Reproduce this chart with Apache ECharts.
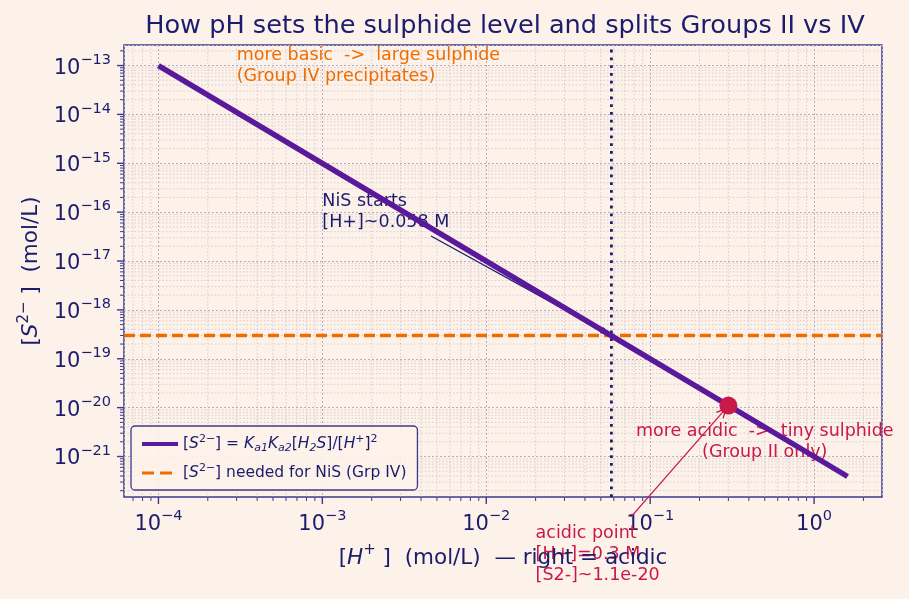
<!DOCTYPE html>
<html><head><meta charset="utf-8">
<script src="https://cdn.jsdelivr.net/npm/echarts@6/dist/echarts.min.js"></script>
<style>html,body{margin:0;padding:0;background:#fdf2e9}#c{width:909px;height:599px}</style>
</head><body><div id="c"></div><script>
// ---------------- data ----------------
const H_VALUES = [1e-4, 1e-3, 1e-2, 1e-1, 1, 1.6];              // [H+] mol/L
const S_VALUES = [1e-13, 1e-15, 1e-17, 1e-19, 1e-21, 3.9e-22];    // [S2-] mol/L
const S_NEEDED_NIS = 3e-19;       // horizontal dashed level
const H_NIS_START = 0.058;        // vertical dotted line
const ACID_POINT_H = [0.3];
const ACID_POINT_S = [1.1e-20];
const X_RANGE = [6.164e-5, 2.596];
const Y_RANGE = [1.484e-22, 2.633e-13];
const X_TICK_POWERS = [-4, -3, -2, -1, 0];
const Y_TICK_POWERS = [-21, -20, -19, -18, -17, -16, -15, -14, -13];
const X_MINOR_DECADES = [-5, -4, -3, -2, -1, 0];
const Y_MINOR_DECADES = [-23, -22, -21, -20, -19, -18, -17, -16, -15, -14, -13];
const MINOR_MULTS = [2, 3, 4, 5, 6, 7, 8, 9];
const SERIES_NAMES = ['[S2-] = Ka1 Ka2 [H2S]/[H+]^2', '[S2-] needed for NiS (Grp IV)'];
const LEGEND_RICH = [
  '{n|[}{i|S}{sp|2−}{n|] = }{i|K}{sb|a1}{i|K}{sb|a2}{n|[}{i|H}{sb|2}{i|S}{n|]/[}{i|H}{sp|+}{n|]}{sp|2}',
  '{n|[}{i|S}{sp|2−}{n|] needed for NiS (Grp IV)}'
];
const TITLE = 'How pH sets the sulphide level and splits Groups II vs IV';
const ANN_TEXTS = ['NiS starts\n[H+]~0.058 M', 'more basic  ->  large sulphide\n(Group IV precipitates)',
                   'more acidic  ->  tiny sulphide\n(Group II only)', 'acidic point\n[H+]=0.3 M\n[S2-]~1.1e-20'];
const ANN_X = [1e-3, 3e-4, 0.5, 0.02];
const ANN_Y = [1e-16, 1e-13, 2e-21, 1e-23];
const ANN_ALIGN = ['left', 'left', 'center', 'left'];
const ARROW_FROM_X = [4.6e-3, 0.0764];
const ARROW_FROM_Y = [3.25e-17, 5.8e-23];
const ARROW_TO_X = [0.058, 0.3];
const ARROW_TO_Y = [3e-19, 1.1e-20];

// ---------------- styles ----------------
const BG = '#fdf2e9', NAVY = '#1c1c6e', FRAME = '#3b3b8c', PURPLE = '#5a189a',
      ORANGE = '#ef6c00', CRIMSON = '#c9184a', GRID_MAJOR = '#b9adc0', GRID_MINOR = '#cfc3cc';
const FONT = '"DejaVu Sans"';
const ANN_COLORS = [NAVY, ORANGE, CRIMSON, CRIMSON];
const ARROW_COLORS = [NAVY, CRIMSON];
const ARROW_FILLED = [true, false];

const xMinor = [], yMinor = [];
X_MINOR_DECADES.forEach(d => MINOR_MULTS.forEach(m => { const v = m * Math.pow(10, d); if (v > X_RANGE[0] && v < X_RANGE[1]) xMinor.push(v); }));
Y_MINOR_DECADES.forEach(d => MINOR_MULTS.forEach(m => { const v = m * Math.pow(10, d); if (v > Y_RANGE[0] && v < Y_RANGE[1]) yMinor.push(v); }));
const X_REF = 1e-2, Y_REF = 1e-17;
const xTickData = X_TICK_POWERS.map(p => [Math.pow(10, p), Y_REF, 0]).concat(xMinor.map(v => [v, Y_REF, 1]));
const yTickData = Y_TICK_POWERS.map(p => [X_REF, Math.pow(10, p), 0]).concat(yMinor.map(v => [X_REF, v, 1]));

function powLabel(v) {
  const e = Math.log10(v), r = Math.round(e);
  if (Math.abs(e - r) > 1e-6) return '';
  return '{b|10}{s|' + (r < 0 ? '−' + (-r) : String(r)) + '}';
}
const tickRich = {
  b: { fontSize: 21, fontFamily: FONT, color: NAVY, lineHeight: 26, verticalAlign: 'bottom' },
  s: { fontSize: 14.5, fontFamily: FONT, color: NAVY, lineHeight: 14, verticalAlign: 'top' }
};
const nameRich = {
  b: { fontSize: 21.5, fontFamily: FONT, color: NAVY, lineHeight: 26, verticalAlign: 'bottom' },
  i: { fontSize: 21.5, fontFamily: FONT, color: NAVY, lineHeight: 26, fontStyle: 'italic', verticalAlign: 'bottom' },
  s: { fontSize: 15, fontFamily: FONT, color: NAVY, lineHeight: 16, verticalAlign: 'top' }
};

function xTickItem(params, api) {
  const cs = params.coordSys;
  const px = api.coord([api.value(0), api.value(1)])[0];
  const minor = api.value(2) === 1;
  const bottom = cs.y + cs.height;
  const ch = [{ type: 'line', shape: { x1: px, y1: bottom, x2: px, y2: bottom + (minor ? 4 : 7) }, style: { stroke: FRAME, lineWidth: minor ? 1 : 1.4 } }];
  if (minor) ch.push({ type: 'line', shape: { x1: px, y1: cs.y, x2: px, y2: bottom }, style: { stroke: GRID_MINOR, lineWidth: 0.8, lineDash: [1.5, 2] } });
  return { type: 'group', children: ch };
}
function yTickItem(params, api) {
  const cs = params.coordSys;
  const py = api.coord([api.value(0), api.value(1)])[1];
  const minor = api.value(2) === 1;
  const ch = [{ type: 'line', shape: { x1: cs.x - (minor ? 4 : 7), y1: py, x2: cs.x, y2: py }, style: { stroke: FRAME, lineWidth: minor ? 1 : 1.4 } }];
  if (minor) ch.push({ type: 'line', shape: { x1: cs.x, y1: py, x2: cs.x + cs.width, y2: py }, style: { stroke: GRID_MINOR, lineWidth: 0.8, lineDash: [1.5, 2] } });
  return { type: 'group', children: ch };
}
function annItem(params, api) {
  const i = api.value(2);
  const p = api.coord([api.value(0), api.value(1)]);
  return { type: 'text', x: p[0], y: p[1], style: {
    text: ANN_TEXTS[i], fill: ANN_COLORS[i], font: '17.5px ' + FONT,
    align: ANN_ALIGN[i], verticalAlign: 'middle', lineHeight: 21 } };
}
function arrowItem(params, api) {
  const i = api.value(4);
  const a = api.coord([api.value(0), api.value(1)]);
  const b0 = api.coord([api.value(2), api.value(3)]);
  const dx = b0[0] - a[0], dy = b0[1] - a[1], L = Math.hypot(dx, dy), ux = dx / L, uy = dy / L;
  const shrink = ARROW_FILLED[i] ? 2 : 4;
  const b = [b0[0] - ux * shrink, b0[1] - uy * shrink];
  const hl = 9, hw = ARROW_FILLED[i] ? 3.5 : 4.5;
  const base = [b[0] - ux * hl, b[1] - uy * hl];
  const l = [base[0] - uy * hw, base[1] + ux * hw], r = [base[0] + uy * hw, base[1] - ux * hw];
  const col = ARROW_COLORS[i];
  const ch = [{ type: 'line', shape: { x1: a[0], y1: a[1], x2: ARROW_FILLED[i] ? base[0] : b[0], y2: ARROW_FILLED[i] ? base[1] : b[1] }, style: { stroke: col, lineWidth: 1.3 } }];
  if (ARROW_FILLED[i]) ch.push({ type: 'polygon', shape: { points: [b, l, r] }, style: { fill: col } });
  else ch.push({ type: 'polyline', shape: { points: [l, b, r] }, style: { stroke: col, lineWidth: 1.3, fill: null } });
  return { type: 'group', children: ch };
}

const chart = echarts.init(document.getElementById('c'), null, { renderer: 'canvas' });
const logAxisCommon = {
  type: 'log', logBase: 10,
  axisLine: { show: false }, axisTick: { show: false },
  splitLine: { show: true, lineStyle: { color: GRID_MAJOR, width: 1, type: [2, 2] } },
  minorSplitLine: { show: false }, minorTick: { show: false }
};
chart.setOption({
  backgroundColor: BG,
  animation: false,
  title: { text: TITLE, left: 500, textAlign: 'center', top: 8,
    textStyle: { fontFamily: FONT, fontSize: 25.6, fontWeight: 'normal', color: NAVY } },
  grid: { left: 124, right: 27, top: 45, bottom: 102, show: true, borderColor: FRAME, borderWidth: 1.5, backgroundColor: 'transparent' },
  legend: {
    data: [
      { name: SERIES_NAMES[0], itemStyle: { opacity: 0 }, lineStyle: { width: 4, color: PURPLE, type: 'solid' } },
      { name: SERIES_NAMES[1], itemStyle: { opacity: 0 }, lineStyle: { width: 3, color: ORANGE, type: [12, 6] } }
    ],
    orient: 'vertical', left: 131, top: 426,
    padding: [8, 11, 9, 9], itemGap: 9, itemWidth: 36, itemHeight: 14,
    backgroundColor: 'rgba(253,242,233,0.88)', borderColor: FRAME, borderWidth: 1.3, borderRadius: 4,
    formatter: name => LEGEND_RICH[SERIES_NAMES.indexOf(name)],
    textStyle: { color: NAVY, fontFamily: FONT, fontSize: 15.5, rich: {
      n: { fontSize: 15.5, fontFamily: FONT, color: NAVY, lineHeight: 20 },
      i: { fontSize: 15.5, fontFamily: FONT, color: NAVY, lineHeight: 20, fontStyle: 'italic' },
      sp: { fontSize: 11, fontFamily: FONT, color: NAVY, lineHeight: 11, verticalAlign: 'top' },
      sb: { fontSize: 11, fontFamily: FONT, color: NAVY, lineHeight: 11, verticalAlign: 'bottom', fontStyle: 'italic' }
    } },
    z: 20
  },
  xAxis: [
    Object.assign({}, logAxisCommon, { min: X_RANGE[0], max: X_RANGE[1],
      axisLabel: { formatter: powLabel, rich: tickRich, margin: 12, showMinLabel: false, showMaxLabel: false } }),
    { type: 'log', logBase: 10, min: X_RANGE[0], max: X_RANGE[1], gridIndex: 0, position: 'bottom', z: 30,
      axisLine: { show: false }, axisTick: { show: false }, axisLabel: { show: false }, splitLine: { show: false },
      name: '{b|[}{i|H}{s|+}{b| ]  (mol/L)  — right = acidic}', nameLocation: 'middle', nameGap: 46,
      nameTextStyle: { rich: nameRich } }
  ],
  yAxis: Object.assign({}, logAxisCommon, { min: Y_RANGE[0], max: Y_RANGE[1],
    axisLabel: { formatter: powLabel, rich: tickRich, margin: 13, showMinLabel: false, showMaxLabel: false },
    name: '{b|[}{i|S}{s|2−}{b| ]  (mol/L)}', nameLocation: 'middle', nameGap: 81, nameRotate: 90,
    nameTextStyle: { rich: nameRich } }),
  series: [
    { type: 'custom', name: 'xticks', renderItem: xTickItem, data: xTickData, clip: false, silent: true, z: 1 },
    { type: 'custom', name: 'yticks', renderItem: yTickItem, data: yTickData, clip: false, silent: true, z: 1 },
    { type: 'line', name: SERIES_NAMES[1], data: [[X_RANGE[0], S_NEEDED_NIS], [X_RANGE[1], S_NEEDED_NIS]],
      symbol: 'none', lineStyle: { color: ORANGE, width: 3.5, type: [11, 5] }, itemStyle: { color: ORANGE }, z: 2, silent: true },
    { type: 'line', name: 'nis', data: [[H_NIS_START, Y_RANGE[0]], [H_NIS_START, Y_RANGE[1]]],
      symbol: 'none', lineStyle: { color: NAVY, width: 2.8, type: [2.8, 5] }, z: 2, silent: true },
    { type: 'custom', name: 'ann', renderItem: annItem, data: ANN_TEXTS.map((t, i) => [ANN_X[i], ANN_Y[i], i]), clip: false, silent: true, z: 3 },
    { type: 'custom', name: 'arrows', renderItem: arrowItem,
      encode: { x: [0, 2], y: [1, 3] },
      data: ARROW_FROM_X.map((v, i) => [v, ARROW_FROM_Y[i], ARROW_TO_X[i], ARROW_TO_Y[i], i]), clip: false, silent: true, z: 3 },
    { type: 'line', name: SERIES_NAMES[0], data: H_VALUES.map((h, i) => [h, S_VALUES[i]]),
      symbol: 'none', lineStyle: { color: PURPLE, width: 5.5 }, itemStyle: { color: PURPLE }, z: 5, silent: true },
    { type: 'scatter', name: 'acid', data: ACID_POINT_H.map((h, i) => [h, ACID_POINT_S[i]]),
      symbol: 'circle', symbolSize: 18, itemStyle: { color: CRIMSON, opacity: 1 }, z: 6, silent: true }
  ]
});
</script></body></html>
